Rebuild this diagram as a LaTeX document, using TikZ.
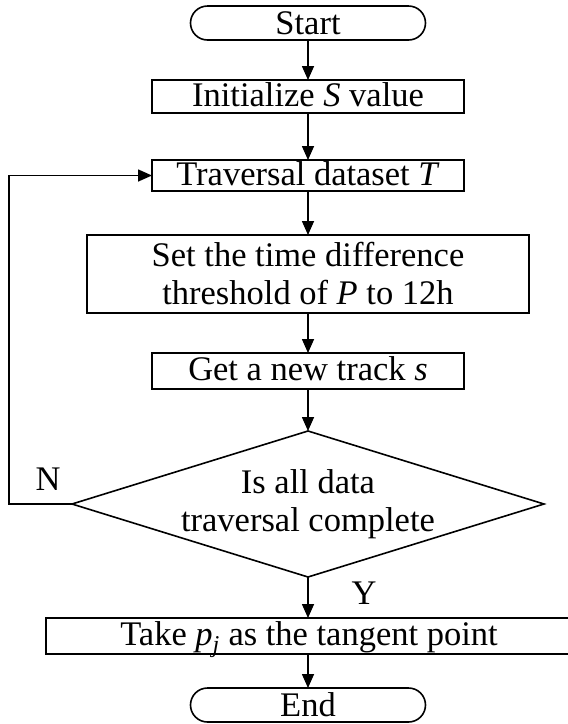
\documentclass[tikz,border=0pt]{standalone}
\usepackage{fontspec}
\setmainfont{Liberation Serif}
\usetikzlibrary{shapes.geometric, arrows.meta, positioning}
\tikzset{
    termbox/.style={rectangle, rounded corners=17pt, draw, line width=1.6pt, minimum width=235pt, minimum height=34pt, inner sep=0pt, outer sep=0pt},
    procbox/.style={rectangle, draw, line width=1.6pt, minimum width=312pt, minimum height=33pt, inner xsep=2pt, inner ysep=0pt, outer sep=0pt, align=center},
    oneline/.style={text height=25pt, text depth=6pt},
    decbox/.style={diamond, draw, line width=1.6pt, minimum width=472pt, minimum height=146pt, inner sep=0pt, outer sep=0pt},
    arrow/.style={-{Triangle[length=14pt, width=12pt]}, line width=1.6pt},
}

\begin{document}
\begin{tikzpicture}[font=\fontsize{34.5}{38}\selectfont]
\useasboundingbox (0,0) rectangle (568pt,-724pt);

% Main column
\node[termbox] (start) at (308pt,-23pt) {Start};
\node[procbox, oneline, below=40pt of start] (init) {Initialize \textit{S} value};
\node[procbox, oneline, minimum height=31pt, below=47pt of init] (trav) {Traversal dataset \textit{T}};
\node[procbox, minimum width=442pt, minimum height=78pt, below=44pt of trav] (thresh) {Set the time difference\\threshold of \textit{P} to 12h};
\node[procbox, oneline, minimum height=36pt, below=40pt of thresh] (track) {Get a new track \textit{s}};

% Decision
\node[decbox, below=42pt of track] (check) {};
\node[align=center] (checktext) at (check.center) {Is all data\\traversal complete};

% End part
\node[procbox, oneline, minimum width=526pt, minimum height=36pt, below=41pt of check, xshift=1pt] (take) {Take \textit{p}\textsubscript{\textit{j}} as the tangent point};
\node[termbox, below=34pt of take.south -| check.south, anchor=north] (stop) {End};

% Branch labels
\node (nlabel) at (48pt,-479pt) {N};
\node (ylabel) at (364pt,-593pt) {Y};

% Arrows
\draw[arrow] (start) -- (init);
\draw[arrow] (init) -- (trav);
\draw[arrow] (trav) -- (thresh);
\draw[arrow] (thresh) -- (track);
\draw[arrow] (track) -- (check);
\draw[arrow] (check.south) -- (check.south |- take.north);
\draw[arrow] (take.south -| stop.north) -- (stop.north);
\draw[arrow] (check.west) -- ++(-63pt,0) |- (trav.west);

\end{tikzpicture}
\end{document}
